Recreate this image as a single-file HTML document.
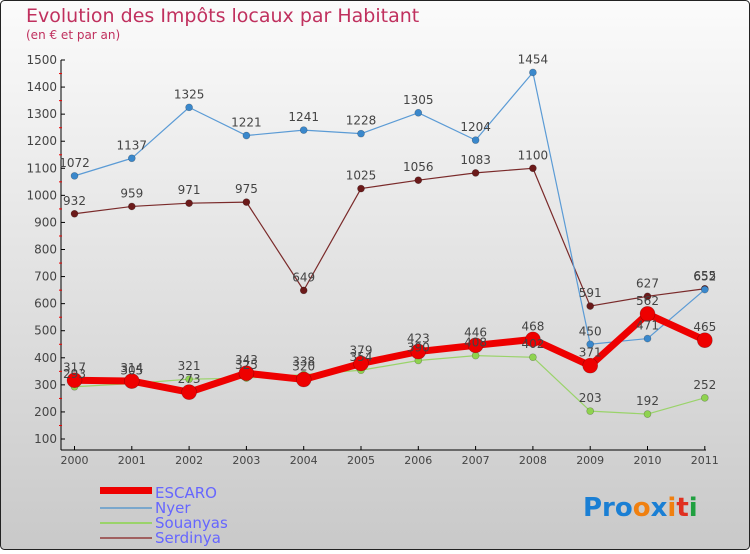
<!DOCTYPE html>
<html><head><meta charset="utf-8"><style>
body{margin:0;width:750px;height:550px;overflow:hidden;font-family:"DejaVu Sans","Liberation Sans",sans-serif}
</style></head><body>
<svg id="chart" width="750" height="550" xmlns="http://www.w3.org/2000/svg">
<defs><linearGradient id="bg" x1="0" y1="0" x2="0" y2="1"><stop offset="0" stop-color="#fbfbfb"/><stop offset="1" stop-color="#c9c9c9"/></linearGradient></defs>
<rect x="0.5" y="0.5" width="749" height="549" rx="4" fill="url(#bg)" stroke="#222"/>
<text x="26" y="22" font-size="19" fill="#c0305e">Evolution des Impôts locaux par Habitant</text>
<text x="26" y="39" font-size="12" fill="#c0305e">(en € et par an)</text>
<g id="axes"></g><g id="series"></g><g id="labels"></g>
<g font-size="15" fill="#6666ff">
<rect x="100" y="487" width="52" height="7" fill="#e00"/>
<text x="155" y="498">ESCARO</text>
<rect x="100" y="507" width="52" height="2" fill="#7aa7cc"/>
<text x="155" y="513">Nyer</text>
<rect x="100" y="522" width="52" height="2" fill="#9ad36a"/>
<text x="155" y="528">Souanyas</text>
<rect x="100" y="537" width="52" height="2" fill="#a06060"/>
<text x="155" y="543">Serdinya</text>
</g>
<g font-size="26" font-weight="bold">
<text x="583" y="516"><tspan fill="#1a7fd4">Pro</tspan><tspan fill="#f08010">o</tspan><tspan fill="#1a7fd4">x</tspan><tspan fill="#f08010">i</tspan><tspan fill="#e03020">t</tspan><tspan fill="#20a040">i</tspan></text>
</g>
</svg>
<script>
const years=["2000","2001","2002","2003","2004","2005","2006","2007","2008","2009","2010","2011"];
const yTicks=[100,200,300,400,500,600,700,800,900,1000,1100,1200,1300,1400,1500];
const escaro=[317,314,273,343,320,379,423,446,468,371,562,465];
const nyer=[1072,1137,1325,1221,1241,1228,1305,1204,1454,450,471,652];
const souanyas=[293,305,321,325,338,354,390,408,402,203,192,252];
const serdinya=[932,959,971,975,649,1025,1056,1083,1100,591,627,655];
const NS="http://www.w3.org/2000/svg";
const xs=i=>74.5+i*57.3;
const ys=v=>439-(v-100)*379/1400;
function mk(tag,attrs,parent){const e=document.createElementNS(NS,tag);for(const k in attrs)e.setAttribute(k,attrs[k]);parent.appendChild(e);return e;}
const ax=document.getElementById('axes');
let l=mk('line',{x1:61,y1:60,x2:61,y2:450,stroke:'#000'},ax);


l=mk('line',{x1:61,y1:450,x2:706,y2:450,stroke:'#000'},ax);


yTicks.forEach(v=>{const y=ys(v);
mk('line',{x1:61,y1:y,x2:65,y2:y,stroke:'#000'},ax);
if(v<1500)mk('line',{x1:59,y1:y-13.5,x2:62,y2:y-13.5,stroke:'#e00'},ax);
const t=mk('text',{x:57,y:y+4,'font-size':12,fill:'#444','text-anchor':'end'},ax);t.textContent=v;

});
years.forEach((yr,i)=>{const x=xs(i);mk('line',{x1:x,y1:446,x2:x,y2:450,stroke:'#000'},ax);
const t=mk('text',{x:x,y:464,'font-size':11,fill:'#444','text-anchor':'middle'},ax);t.textContent=yr;

});
const sg=document.getElementById('series'),lg=document.getElementById('labels');
function draw(data,name,color,w,r,pcol){
const p=mk('polyline',{points:data.map((v,i)=>xs(i)+','+ys(v)).join(' '),fill:'none',stroke:color,'stroke-width':w,'stroke-linejoin':'round'},sg);


data.forEach((v,i)=>{const c=mk('circle',{cx:xs(i),cy:ys(v),r:r,fill:pcol,stroke:'rgba(0,0,0,0.3)','stroke-width':0.6},sg);


const t=mk('text',{x:xs(i),y:ys(v)-9,'font-size':12,fill:'#444','text-anchor':'middle'},lg);t.textContent=v;

});}
draw(serdinya,'serdinya','#7a2a2a',1.2,3.5,'#6b1a1a');
draw(nyer,'nyer','#5b9bd5',1.2,3.5,'#3a88cc');
draw(souanyas,'souanyas','#9ad36a',1.2,3.5,'#8fd34f');
draw(escaro,'escaro','#ee0000',7,7.5,'#ee0000');
</script>
</body></html>
